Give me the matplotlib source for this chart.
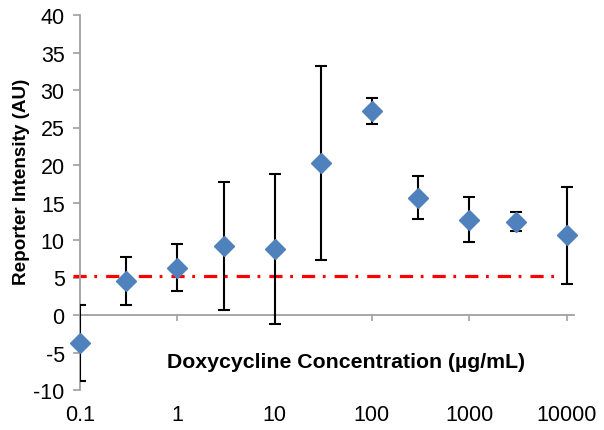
import matplotlib
matplotlib.use("Agg")
import matplotlib.pyplot as plt

plt.rcParams['font.family'] = ['Liberation Sans', 'DejaVu Sans']
plt.rcParams['axes.unicode_minus'] = False
plt.rcParams['lines.scale_dashes'] = False

conc = [0.1, 0.3, 1, 3, 10, 30, 100, 300, 1000, 3000, 10000]
intensity = [-3.75, 4.5, 6.3, 9.2, 8.8, 20.3, 27.2, 15.65, 12.7, 12.45, 10.65]
err = [5.1, 3.2, 3.15, 8.5, 10.0, 12.95, 1.7, 2.9, 3.0, 1.25, 6.45]
threshold = 5.2
threshold_x = [0.084, 7700]
xticks = [0.1, 1, 10, 100, 1000, 10000]
xticklabels = ["0.1", "1", "10", "100", "1000", "10000"]
yticks = [-10, -5, 0, 5, 10, 15, 20, 25, 30, 35, 40]

fig = plt.figure(figsize=(6.04, 4.31), dpi=100)
ax = fig.add_axes([80/604, 1-391/431, 494/604, 375/431])

ax.set_xscale('log')
ax.set_xlim(0.1, 10000 * 10 ** (7.5 / 97.3))
ax.set_ylim(-10, 40)

ax.plot(threshold_x, [threshold, threshold], color='#ff0000', lw=2.3,
        dashes=(9.5, 5.5, 2.0, 6.5), clip_on=False, zorder=2, dash_capstyle='butt')

ax.errorbar(conc, intensity, yerr=err, fmt='none', ecolor='black',
            elinewidth=1.5, capsize=4.5, capthick=1.5, zorder=3)
ax.plot(conc, intensity, linestyle='none', marker='D', ms=10.5,
        color='#4f81bd', mec='#4f81bd', zorder=4, clip_on=False)

for s in ['top', 'right']:
    ax.spines[s].set_visible(False)
ax.spines['bottom'].set_position(('data', 0))
for s in ['left', 'bottom']:
    ax.spines[s].set_color('#a0a0a0')
    ax.spines[s].set_linewidth(1.3)

ax.set_yticks(yticks)
ax.tick_params(axis='y', direction='out', length=5, width=1.2, color='#a0a0a0',
               labelsize=15.5, pad=6)
ax.set_xticks(xticks)
ax.xaxis.set_minor_locator(matplotlib.ticker.NullLocator())
ax.tick_params(axis='x', direction='out', length=4, width=1.2, color='#a0a0a0',
               labelbottom=False)

for v, lab in zip(xticks, xticklabels):
    ax.annotate(lab, xy=(v, 0), xycoords=('data', 'axes fraction'),
                xytext=(0, -17.5), textcoords='offset points',
                ha='center', va='center', fontsize=15.5)

ax.set_xlabel("Doxycycline Concentration (µg/mL)", fontsize=15.3, fontweight='bold')
ax.xaxis.set_label_coords(0.5385, 0.077)
ax.xaxis.label.set_va('center')
ax.set_ylabel("Reporter Intensity (AU)", fontsize=13.6, fontweight='bold')
ax.yaxis.set_label_coords(-0.119, 0.557)
ax.yaxis.label.set_va('center')

fig.savefig("out.png", dpi=100)
